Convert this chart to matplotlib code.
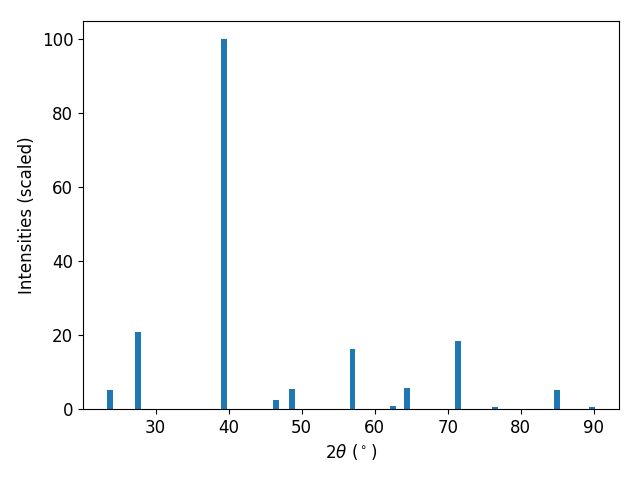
import matplotlib
matplotlib.use("Agg")
import matplotlib.pyplot as plt

two_theta = [23.8, 27.63, 39.42, 46.53, 48.73, 56.95, 62.55, 64.47, 71.45, 76.5, 84.9, 89.7]
intensity = [5.15, 20.9, 100.0, 2.4, 5.4, 16.3, 0.8, 5.7, 18.4, 0.5, 5.15, 0.5]

plt.rcParams['font.size'] = 12
fig, ax = plt.subplots(figsize=(6.4, 4.8), dpi=100)
ax.bar(two_theta, intensity, width=0.8)
ax.set_xlabel(r"$2\theta$ ($^\circ$)")
ax.set_ylabel("Intensities (scaled)")
fig.subplots_adjust(left=83/640, right=619/640, top=1-21/480, bottom=1-409/480)
fig.savefig("out.png")
